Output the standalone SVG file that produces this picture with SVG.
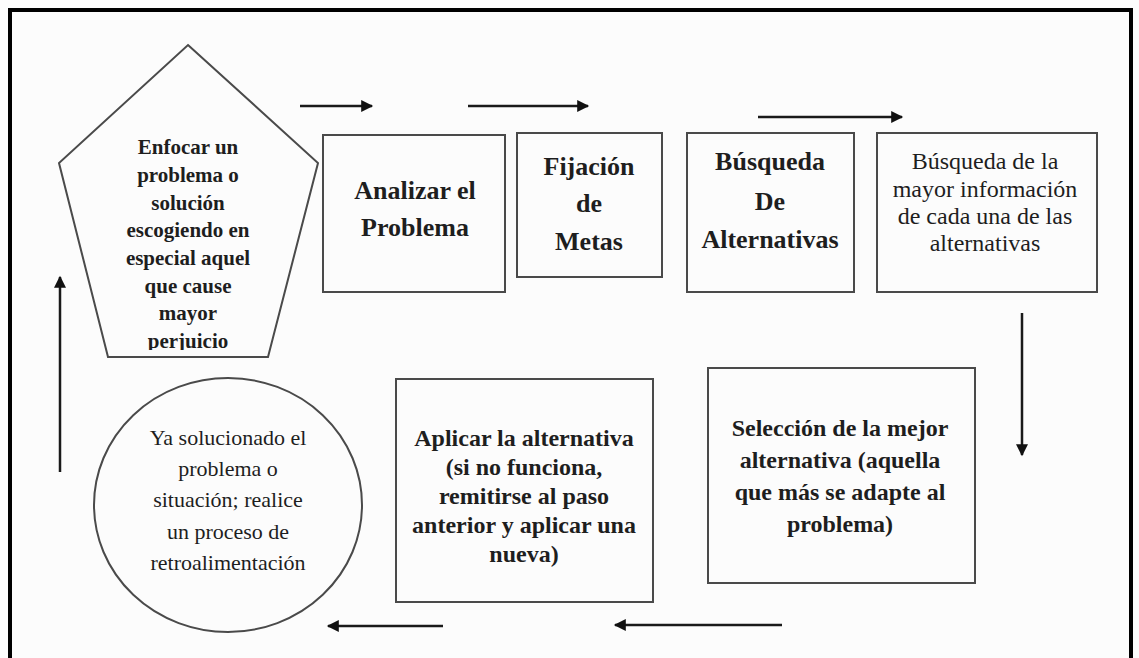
<svg xmlns="http://www.w3.org/2000/svg" width="1139" height="658" viewBox="0 0 1139 658">
<defs>
<style>
.box{fill:none;stroke:#4a4a4a;stroke-width:2}
.con{stroke:#1a1a1a;stroke-width:2.5;fill:none}
.b{font-family:"Liberation Serif","Times New Roman",serif;font-weight:bold;fill:#1e1e1e;text-anchor:middle}
.r{font-family:"Liberation Serif","Times New Roman",serif;fill:#1e1e1e;text-anchor:middle}
</style>
<marker id="ah" viewBox="0 0 10 10" refX="9" refY="5" markerWidth="6" markerHeight="6" markerUnits="userSpaceOnUse" orient="auto">
<path d="M0,0 L10,5 L0,10 z" fill="#111"/>
</marker>
<marker id="ah2" viewBox="0 0 10 10" refX="9" refY="5" markerWidth="14" markerHeight="12" markerUnits="userSpaceOnUse" orient="auto">
<path d="M0,0 L10,5 L0,10 z" fill="#111"/>
</marker>
<clipPath id="pclip"><rect x="40" y="40" width="300" height="310"/></clipPath>
</defs>
<rect x="0" y="0" width="1139" height="658" fill="#fcfcfc"/>
<path d="M10,665 V10 H1131 V665" fill="none" stroke="#000" stroke-width="4"/>

<g id="n1">
<polygon class="box" points="188,45 318,163 268,357 108,357 59,163"/>
<g clip-path="url(#pclip)" font-size="21" class="b">
<text x="188" y="154">Enfocar un</text>
<text x="188" y="182">problema o</text>
<text x="188" y="210">solución</text>
<text x="188" y="237">escogiendo en</text>
<text x="188" y="265">especial aquel</text>
<text x="188" y="293">que cause</text>
<text x="188" y="320">mayor</text>
<text x="188" y="348">perjuicio</text>
</g>
</g>

<g id="n2">
<rect class="box" x="323" y="135" width="182" height="157"/>
<text class="b" font-size="26" x="415" y="199">Analizar el</text>
<text class="b" font-size="26" x="415" y="236">Problema</text>
</g>

<g id="n3">
<rect class="box" x="517" y="133" width="145" height="144"/>
<text class="b" font-size="26" x="589" y="175">Fijación</text>
<text class="b" font-size="26" x="589" y="212">de</text>
<text class="b" font-size="26" x="589" y="250">Metas</text>
</g>

<g id="n4">
<rect class="box" x="687" y="133" width="167" height="159"/>
<text class="b" font-size="26" x="770" y="170">Búsqueda</text>
<text class="b" font-size="26" x="770" y="210">De</text>
<text class="b" font-size="26" x="770" y="248">Alternativas</text>
</g>

<g id="n5">
<rect class="box" x="877" y="133" width="220" height="159"/>
<text class="r" font-size="24" x="985" y="169">Búsqueda de la</text>
<text class="r" font-size="24" x="985" y="197">mayor información</text>
<text class="r" font-size="24" x="985" y="224">de cada una de las</text>
<text class="r" font-size="24" x="985" y="251">alternativas</text>
</g>

<g id="n6">
<rect class="box" x="708" y="368" width="267" height="215"/>
<text class="b" font-size="24" x="840" y="436">Selección de la mejor</text>
<text class="b" font-size="24" x="840" y="468">alternativa (aquella</text>
<text class="b" font-size="24" x="840" y="500">que más se adapte al</text>
<text class="b" font-size="24" x="840" y="532">problema)</text>
</g>

<g id="n7">
<rect class="box" x="396" y="379" width="257" height="223"/>
<text class="b" font-size="24" x="524" y="446">Aplicar la alternativa</text>
<text class="b" font-size="24" x="524" y="475">(si no funciona,</text>
<text class="b" font-size="24" x="524" y="504">remitirse al paso</text>
<text class="b" font-size="24" x="524" y="533">anterior y aplicar una</text>
<text class="b" font-size="24" x="524" y="562">nueva)</text>
</g>

<g id="n8">
<ellipse class="box" cx="228" cy="505" rx="134" ry="127"/>
<text class="r" font-size="22" x="228" y="445">Ya solucionado el</text>
<text class="r" font-size="22" x="228" y="476">problema o</text>
<text class="r" font-size="22" x="228" y="507">situación; realice</text>
<text class="r" font-size="22" x="228" y="539">un proceso de</text>
<text class="r" font-size="22" x="228" y="570">retroalimentación</text>
</g>

<g id="connectors">
<line class="con" x1="300" y1="106" x2="372" y2="106" marker-end="url(#ah2)"/>
<line class="con" x1="468" y1="106" x2="588" y2="106" marker-end="url(#ah2)"/>
<line class="con" x1="758" y1="117" x2="902" y2="117" marker-end="url(#ah2)"/>
<line class="con" x1="1022" y1="313" x2="1022" y2="455" marker-end="url(#ah2)"/>
<line class="con" x1="782" y1="625" x2="615" y2="625" marker-end="url(#ah2)"/>
<line class="con" x1="443" y1="626" x2="328" y2="626" marker-end="url(#ah2)"/>
<line class="con" x1="60" y1="472" x2="60" y2="277" marker-end="url(#ah2)"/>
</g>
</svg>
